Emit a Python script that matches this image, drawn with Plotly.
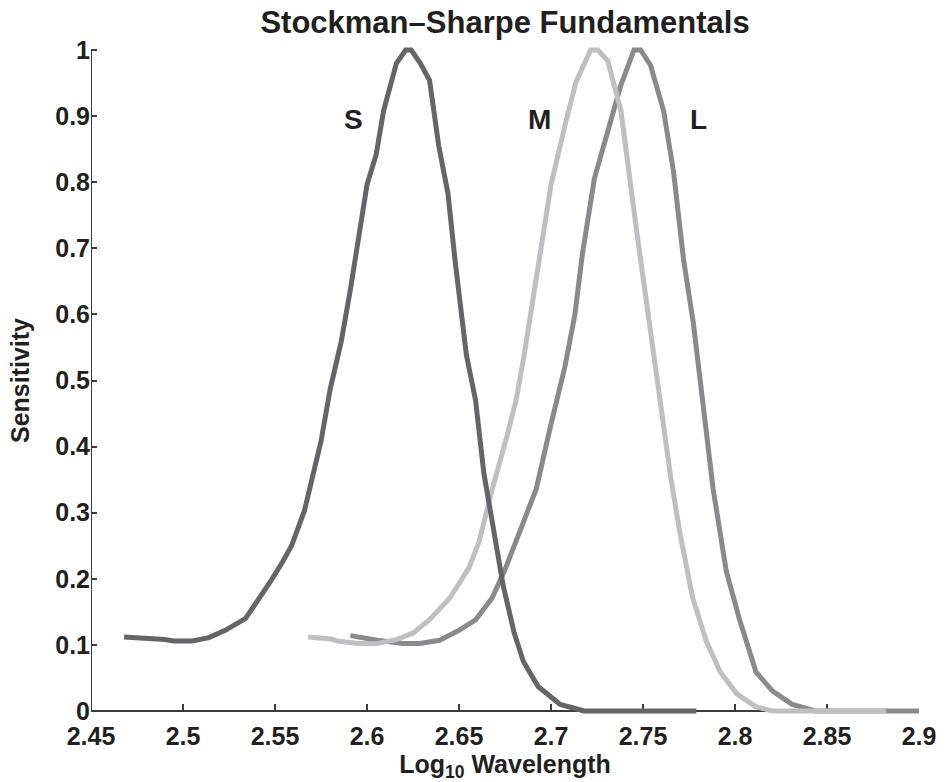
import plotly.graph_objects as go

# ---- data (log10 wavelength vs. normalised sensitivity) ----
s_x = [2.468, 2.478, 2.484, 2.490, 2.495, 2.505, 2.514, 2.523, 2.534, 2.541, 2.548, 2.554,
       2.559, 2.566, 2.575, 2.580, 2.586, 2.591, 2.596, 2.600, 2.605, 2.609, 2.616, 2.621,
       2.624, 2.629, 2.634, 2.639, 2.644, 2.648, 2.654, 2.659, 2.6635, 2.668, 2.674, 2.680,
       2.685, 2.693, 2.705, 2.718, 2.779]
s_y = [0.112, 0.111, 0.109, 0.108, 0.106, 0.106, 0.111, 0.122, 0.140, 0.168, 0.198, 0.225,
       0.250, 0.303, 0.408, 0.487, 0.559, 0.638, 0.724, 0.796, 0.842, 0.908, 0.980, 1.0,
       1.0, 0.980, 0.954, 0.855, 0.783, 0.678, 0.539, 0.470, 0.360, 0.289, 0.190, 0.118,
       0.075, 0.037, 0.010, 0.0, 0.0]

m_x = [2.568, 2.580, 2.584, 2.595, 2.605, 2.616, 2.625, 2.634, 2.645, 2.6555, 2.661, 2.668,
       2.676, 2.681, 2.6855, 2.690, 2.695, 2.700, 2.7075, 2.7135, 2.7215, 2.7254, 2.7308,
       2.738, 2.747, 2.752, 2.758, 2.765, 2.770, 2.777, 2.7845, 2.792, 2.801, 2.811, 2.820,
       2.882]
m_y = [0.112, 0.109, 0.106, 0.102, 0.102, 0.108, 0.118, 0.138, 0.171, 0.217, 0.257, 0.335,
       0.415, 0.470, 0.540, 0.620, 0.704, 0.796, 0.885, 0.951, 1.0, 1.0, 0.984,
       0.908, 0.717, 0.618, 0.487, 0.355, 0.270, 0.171, 0.105, 0.059, 0.026, 0.007, 0.0,
       0.0]

l_x = [2.591, 2.6054, 2.6197, 2.6287, 2.6394, 2.650, 2.659, 2.668, 2.675, 2.685, 2.692,
       2.6995, 2.7075, 2.713, 2.717, 2.7236, 2.7308, 2.738, 2.7451, 2.7487, 2.7541, 2.7612,
       2.7666, 2.772, 2.7774, 2.7828, 2.7881, 2.7953, 2.8025, 2.8114, 2.8204, 2.8311, 2.8437,
       2.9]
l_y = [0.114, 0.107, 0.102, 0.102, 0.107, 0.122, 0.138, 0.171, 0.214, 0.283, 0.336,
       0.428, 0.520, 0.600, 0.690, 0.806, 0.875, 0.947, 1.0, 1.0, 0.977, 0.908,
       0.816, 0.684, 0.586, 0.454, 0.336, 0.211, 0.138, 0.059, 0.030, 0.010, 0.0,
       0.0]

label_text = ["S", "M", "L"]
label_x = [2.5928, 2.694, 2.780]
label_y = [0.895, 0.895, 0.895]

x_ticks = [2.45, 2.5, 2.55, 2.6, 2.65, 2.7, 2.75, 2.8, 2.85, 2.9]
x_tick_text = ["2.45", "2.5", "2.55", "2.6", "2.65", "2.7", "2.75", "2.8", "2.85", "2.9"]
y_ticks = [0, 0.1, 0.2, 0.3, 0.4, 0.5, 0.6, 0.7, 0.8, 0.9, 1]
y_tick_text = ["0", "0.1", "0.2", "0.3", "0.4", "0.5", "0.6", "0.7", "0.8", "0.9", "1"]

# ---- styling ----
FONT = "Liberation Sans, Arial, Helvetica, sans-serif"
INK = "#231f20"
AXIS = "#3d3a3b"
YPAD = 0.00757

fig = go.Figure()
fig.add_trace(go.Scatter(x=l_x, y=l_y, mode="lines", name="L",
                         line=dict(color="#888a8d", width=5)))
fig.add_trace(go.Scatter(x=m_x, y=m_y, mode="lines", name="M",
                         line=dict(color="#bebfc2", width=5)))
fig.add_trace(go.Scatter(x=s_x, y=s_y, mode="lines", name="S",
                         line=dict(color="#646569", width=5)))

for t, x, y in zip(label_text, label_x, label_y):
    fig.add_annotation(x=x, y=y, text=t, showarrow=False,
                       font=dict(family=FONT, size=28, color=INK, weight="bold"),
                       xanchor="center", yanchor="middle")

# y axis line drawn only from 0 to 1
fig.add_shape(type="line", xref="x", yref="y", x0=x_ticks[0], x1=x_ticks[0],
              y0=y_ticks[0], y1=y_ticks[-1], layer="below",
              line=dict(color=AXIS, width=2))

fig.update_layout(
    width=948, height=782,
    margin=dict(l=91, r=20, t=45, b=66),
    paper_bgcolor="white", plot_bgcolor="white",
    showlegend=False,
    title=dict(text="Stockman\u2013Sharpe Fundamentals", x=0.5, xref="paper",
               xanchor="center", y=1 - 22 / 782, yref="container", yanchor="middle",
               font=dict(family=FONT, size=31, color=INK, weight="bold")),
    xaxis=dict(range=[x_ticks[0], x_ticks[-1]], anchor="free",
               position=YPAD / (1 + 2 * YPAD),
               showline=True, linecolor=AXIS, linewidth=2, layer="below traces",
               ticks="inside", ticklen=6, tickwidth=1.5, tickcolor=AXIS,
               tickvals=x_ticks, ticktext=x_tick_text, ticklabelstandoff=3,
               tickfont=dict(family=FONT, size=25, color=INK, weight="bold"),
               showgrid=False, zeroline=False,
               title=dict(text="Log<sub>10</sub> Wavelength", standoff=0,
                          font=dict(family=FONT, size=25, color=INK, weight="bold"))),
    yaxis=dict(range=[-YPAD, 1 + YPAD],
               showline=False, layer="below traces",
               ticks="inside", ticklen=6, tickwidth=1.5, tickcolor=AXIS,
               tickvals=y_ticks, ticktext=y_tick_text,
               tickfont=dict(family=FONT, size=25, color=INK, weight="bold"),
               showgrid=False, zeroline=False,
               title=dict(text="Sensitivity", standoff=18,
                          font=dict(family=FONT, size=25, color=INK, weight="bold"))),
)

fig.write_html("out.html")
